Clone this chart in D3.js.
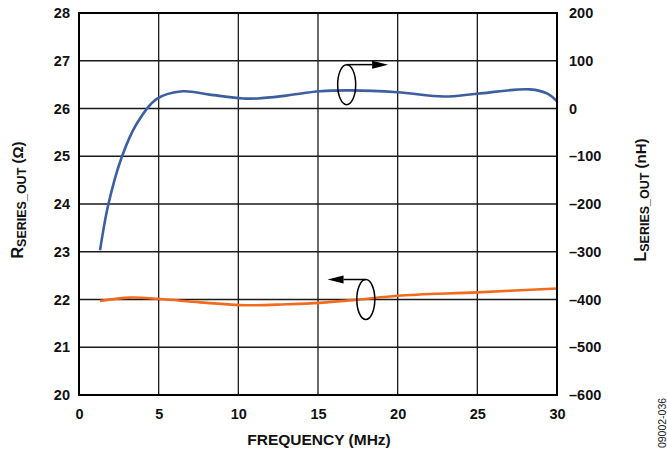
<!DOCTYPE html>
<html><head><meta charset="utf-8">
<script src="https://cdn.jsdelivr.net/npm/d3@7"></script>
<style>body{margin:0;background:#fff}svg{display:block}text{font-family:"Liberation Sans",Arial,sans-serif}</style>
</head><body>
<svg id="c" width="667" height="450"></svg>
<script>
// Data
const lFreq = [1.32, 1.84, 2.68, 3.62, 4.88, 6.5, 8.2, 10.3, 11.2, 13.0, 15.1, 17.0, 20.0, 22.9, 25.0, 28.3, 29.4, 30.0];
const lValues = [-297, -201, -102, -32, 20, 36, 29, 21, 21, 27, 36, 38, 34, 25, 31, 40, 31, 15];
const rFreq = [1.32, 3.2, 5.08, 7.6, 10.5, 13.0, 15.1, 17.6, 20.0, 25.0, 30.0];
const rValues = [21.97, 22.04, 22.01, 21.94, 21.88, 21.90, 21.93, 22.0, 22.08, 22.15, 22.23];
const xTicks = [0, 5, 10, 15, 20, 25, 30];
const leftTicks = [20, 21, 22, 23, 24, 25, 26, 27, 28];
const rightTicks = [-600, -500, -400, -300, -200, -100, 0, 100, 200];

const svg = d3.select("#c");
const L = 79, R = 557, T = 13, B = 395;
const x = d3.scaleLinear().domain([0, 30]).range([L, R]);
const yL = d3.scaleLinear().domain([20, 28]).range([B, T]);
const yR = d3.scaleLinear().domain([-600, 200]).range([B, T]);

// grid
const g = svg.append("g");
g.selectAll(".vx").data(xTicks.slice(1, -1)).enter().append("line")
  .attr("x1", d => x(d)).attr("x2", d => x(d)).attr("y1", T).attr("y2", B)
  .attr("stroke", "#1a1a1a").attr("stroke-width", 1.3);
g.selectAll(".hy").data(leftTicks.slice(1, -1)).enter().append("line")
  .attr("x1", L).attr("x2", R).attr("y1", d => yL(d)).attr("y2", d => yL(d))
  .attr("stroke", "#1a1a1a").attr("stroke-width", 1.3);

// axes (labels only)
const fs = "14.5px";
const ax = svg.append("g").attr("transform", `translate(0,${B})`)
  .call(d3.axisBottom(x).tickValues(xTicks).tickSize(0).tickPadding(14));
const ayl = svg.append("g").attr("transform", `translate(${L},0)`)
  .call(d3.axisLeft(yL).tickValues(leftTicks).tickSize(0).tickPadding(9).tickFormat(d3.format("d")));
const ayr = svg.append("g").attr("transform", `translate(${R},0)`)
  .call(d3.axisRight(yR).tickValues(rightTicks).tickSize(0).tickPadding(12)
    .tickFormat(d => d < 0 ? "\u2013" + Math.abs(d) : String(d)));
[ax, ayl, ayr].forEach(a => {
  a.select(".domain").remove();
  a.selectAll("text").attr("font-size", fs).attr("font-weight", "bold").attr("fill", "#111")
    .attr("font-family", "Liberation Sans, Arial, sans-serif");
});

// lines
const line = d3.line().curve(d3.curveCatmullRom.alpha(0.5));
svg.append("path")
  .attr("d", line(rFreq.map((f, i) => [x(f), yL(rValues[i])])))
  .attr("fill", "none").attr("stroke", "#f26b1d").attr("stroke-width", 2.6);
svg.append("path")
  .attr("d", line(lFreq.map((f, i) => [x(f), yR(lValues[i])])))
  .attr("fill", "none").attr("stroke", "#3c5fa0").attr("stroke-width", 2.6);

// frame
svg.append("rect").attr("x", L).attr("y", T).attr("width", R - L).attr("height", B - T)
  .attr("fill", "none").attr("stroke", "#000").attr("stroke-width", 2);

// annotations
function ann(cx, cy, tipX) {
  svg.append("ellipse").attr("cx", cx).attr("cy", cy).attr("rx", 9).attr("ry", 20)
    .attr("fill", "none").attr("stroke", "#000").attr("stroke-width", 1.5);
  const ty = cy - 20;
  const dir = tipX > cx ? 1 : -1;
  const base = tipX - dir * 16;
  svg.append("line").attr("x1", cx).attr("x2", base).attr("y1", ty).attr("y2", ty)
    .attr("stroke", "#000").attr("stroke-width", 1.5);
  svg.append("path").attr("d", `M${tipX},${ty} L${base},${ty - 4} L${base},${ty + 4} Z`).attr("fill", "#000");
}
ann(x(16.8), yR(50), x(19.4));
ann(x(18.0), yL(22.0), x(15.6));

// axis titles
svg.append("text").attr("x", 319).attr("y", 445).attr("text-anchor", "middle")
  .attr("font-size", "15.5px").attr("font-weight", "bold").attr("fill", "#111").text("FREQUENCY (MHz)");

const lt = svg.append("text").attr("transform", "translate(23,200) rotate(-90)").attr("text-anchor", "middle")
  .attr("font-weight", "bold").attr("fill", "#111");
lt.append("tspan").attr("font-size", "16px").text("R");
lt.append("tspan").attr("font-size", "12.5px").attr("dy", 3).text("SERIES_OUT");
lt.append("tspan").attr("font-size", "15px").attr("dy", -3).text(" (\u03A9)");

const rt = svg.append("text").attr("transform", "translate(646,200) rotate(-90)").attr("text-anchor", "middle")
  .attr("font-weight", "bold").attr("fill", "#111");
rt.append("tspan").attr("font-size", "16px").text("L");
rt.append("tspan").attr("font-size", "12.5px").attr("dy", 3).text("SERIES_OUT");
rt.append("tspan").attr("font-size", "15px").attr("dy", -3).text(" (nH)");

svg.append("text").attr("transform", "translate(666,423) rotate(-90)").attr("text-anchor", "middle")
  .attr("font-size", "10.5px").attr("fill", "#222").text("09002-036");
</script>
</body></html>
